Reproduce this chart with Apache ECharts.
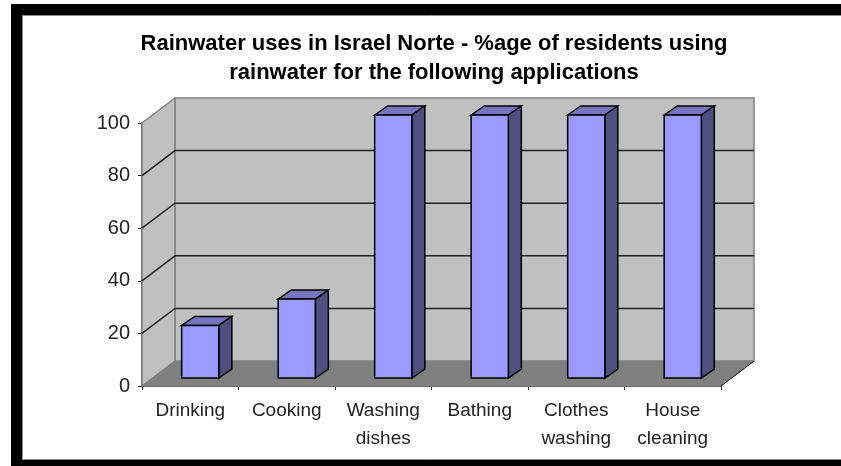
<!DOCTYPE html>
<html>
<head>
<meta charset="utf-8">
<title>Rainwater uses in Israel Norte</title>
<script src="https://cdn.jsdelivr.net/npm/echarts@6/dist/echarts.min.js"></script>
<style>
html, body { margin: 0; padding: 0; background: #fff; }
#Chart { width: 841px; height: 466px; }
</style>
</head>
<body>
<div id="Chart"></div>
<script>
const categories = ['Drinking', 'Cooking', 'Washing\ndishes', 'Bathing', 'Clothes\nwashing', 'House\ncleaning'];
const values = [20, 30, 100, 100, 100, 100];
const gridTicks = [20, 40, 60, 80];

const fontName = '"Liberation Sans", Arial, sans-serif';
// fake 3d offsets, px
const depthX = 33, depthY = 25;
const barDepthX = 13, barDepthY = 9;
const barInsetX = 10, barInsetY = 8;

function poly(points, fill, stroke, width) {
    return {
        type: 'polygon',
        shape: { points: points },
        style: { fill: fill, stroke: stroke, lineWidth: width || 1 }
    };
}

// side wall, back wall and floor
function renderWalls(params) {
    const c = params.coordSys;
    const l = c.x, r = c.x + c.width, t = c.y, b = c.y + c.height;
    return {
        type: 'group',
        children: [
            poly([[l + depthX, t - depthY], [r + depthX, t - depthY], [r + depthX, b - depthY], [l + depthX, b - depthY]], '#c0c0c0', '#808080', 1.5),
            poly([[l, t], [l + depthX, t - depthY], [l + depthX, b - depthY], [l, b]], '#c0c0c0', '#808080', 1.5),
            poly([[l, b], [l + depthX, b - depthY], [r + depthX, b - depthY], [r, b]], '#808080', '#808080', 1),
            { type: 'line', shape: { x1: r, y1: b, x2: r + depthX, y2: b - depthY }, style: { stroke: '#111', lineWidth: 1 } }
        ]
    };
}

function renderGridLine(params, api) {
    const c = params.coordSys;
    const y = api.coord([0, api.value(1)])[1];
    return {
        type: 'polyline',
        shape: { points: [[c.x, y], [c.x + depthX, y - depthY], [c.x + c.width + depthX, y - depthY]] },
        style: { fill: null, stroke: '#222', lineWidth: 1.5 }
    };
}

function renderBar(params, api) {
    const base = api.coord([api.value(0), 0]);
    const top = api.coord([api.value(0), api.value(1)]);
    const w = api.size([1, 0])[0] * 0.385;
    const x0 = base[0] + barInsetX - w / 2, x1 = x0 + w;
    const y0 = base[1] - barInsetY, y1 = top[1] - barInsetY;
    return {
        type: 'group',
        children: [
            poly([[x0, y1], [x0 + barDepthX, y1 - barDepthY], [x1 + barDepthX, y1 - barDepthY], [x1, y1]], '#7676bf', '#000', 1.5),
            poly([[x1, y1], [x1 + barDepthX, y1 - barDepthY], [x1 + barDepthX, y0 - barDepthY], [x1, y0]], '#4f4f80', '#000', 1.5),
            poly([[x0, y1], [x1, y1], [x1, y0], [x0, y0]], '#9999ff', '#000', 1.5)
        ]
    };
}

const frame = [
    { x: 11, y: 4, width: 830, height: 11 },
    { x: 11, y: 4, width: 11, height: 462 },
    { x: 11, y: 460, width: 830, height: 6 }
].map(function (s) {
    return { type: 'rect', shape: s, style: { fill: '#000' }, silent: true };
});
// thin grey edge inside the black frame
frame.push({
    type: 'polyline',
    shape: { points: [[841, 15.5], [22.5, 15.5], [22.5, 459.5], [841, 459.5]] },
    style: { fill: null, stroke: '#888', lineWidth: 1 },
    silent: true
});

const option = {
    backgroundColor: '#ffffff',
    animation: false,
    title: {
        text: 'Rainwater uses in Israel Norte - %age of residents using\nrainwater for the following applications',
        left: 429,
        top: 24,
        textAlign: 'center',
        textStyle: {
            color: '#000',
            fontFamily: fontName,
            fontSize: 22,
            fontWeight: 'bold',
            lineHeight: 29
        }
    },
    graphic: frame,
    grid: { left: 142, top: 123, width: 579, height: 263 },
    xAxis: {
        type: 'category',
        data: categories,
        axisLine: { show: true, lineStyle: { color: '#222', width: 1.5 } },
        axisTick: { show: true, length: 4, lineStyle: { color: '#222' } },
        axisLabel: {
            color: '#222',
            fontFamily: fontName,
            fontSize: 19,
            lineHeight: 28,
            margin: 11,
            interval: 0
        },
        splitLine: { show: false }
    },
    yAxis: {
        type: 'value',
        min: 0,
        max: 100,
        interval: 20,
        axisLine: { show: true, lineStyle: { color: '#222', width: 1.5 } },
        axisTick: { show: true, length: 4, lineStyle: { color: '#222' } },
        axisLabel: { color: '#222', fontFamily: fontName, fontSize: 20, margin: 12 },
        splitLine: { show: false }
    },
    series: [
        { type: 'custom', z: 1, clip: false, silent: true, renderItem: renderWalls, data: [[0, 0]] },
        { type: 'custom', z: 2, clip: false, silent: true, renderItem: renderGridLine, data: gridTicks.map(function (t) { return [0, t]; }) },
        { type: 'custom', z: 3, clip: false, renderItem: renderBar, data: values.map(function (v, i) { return [i, v]; }) }
    ]
};

const myChart = echarts.init(document.getElementById('Chart'));
myChart.setOption(option);
</script>
</body>
</html>
